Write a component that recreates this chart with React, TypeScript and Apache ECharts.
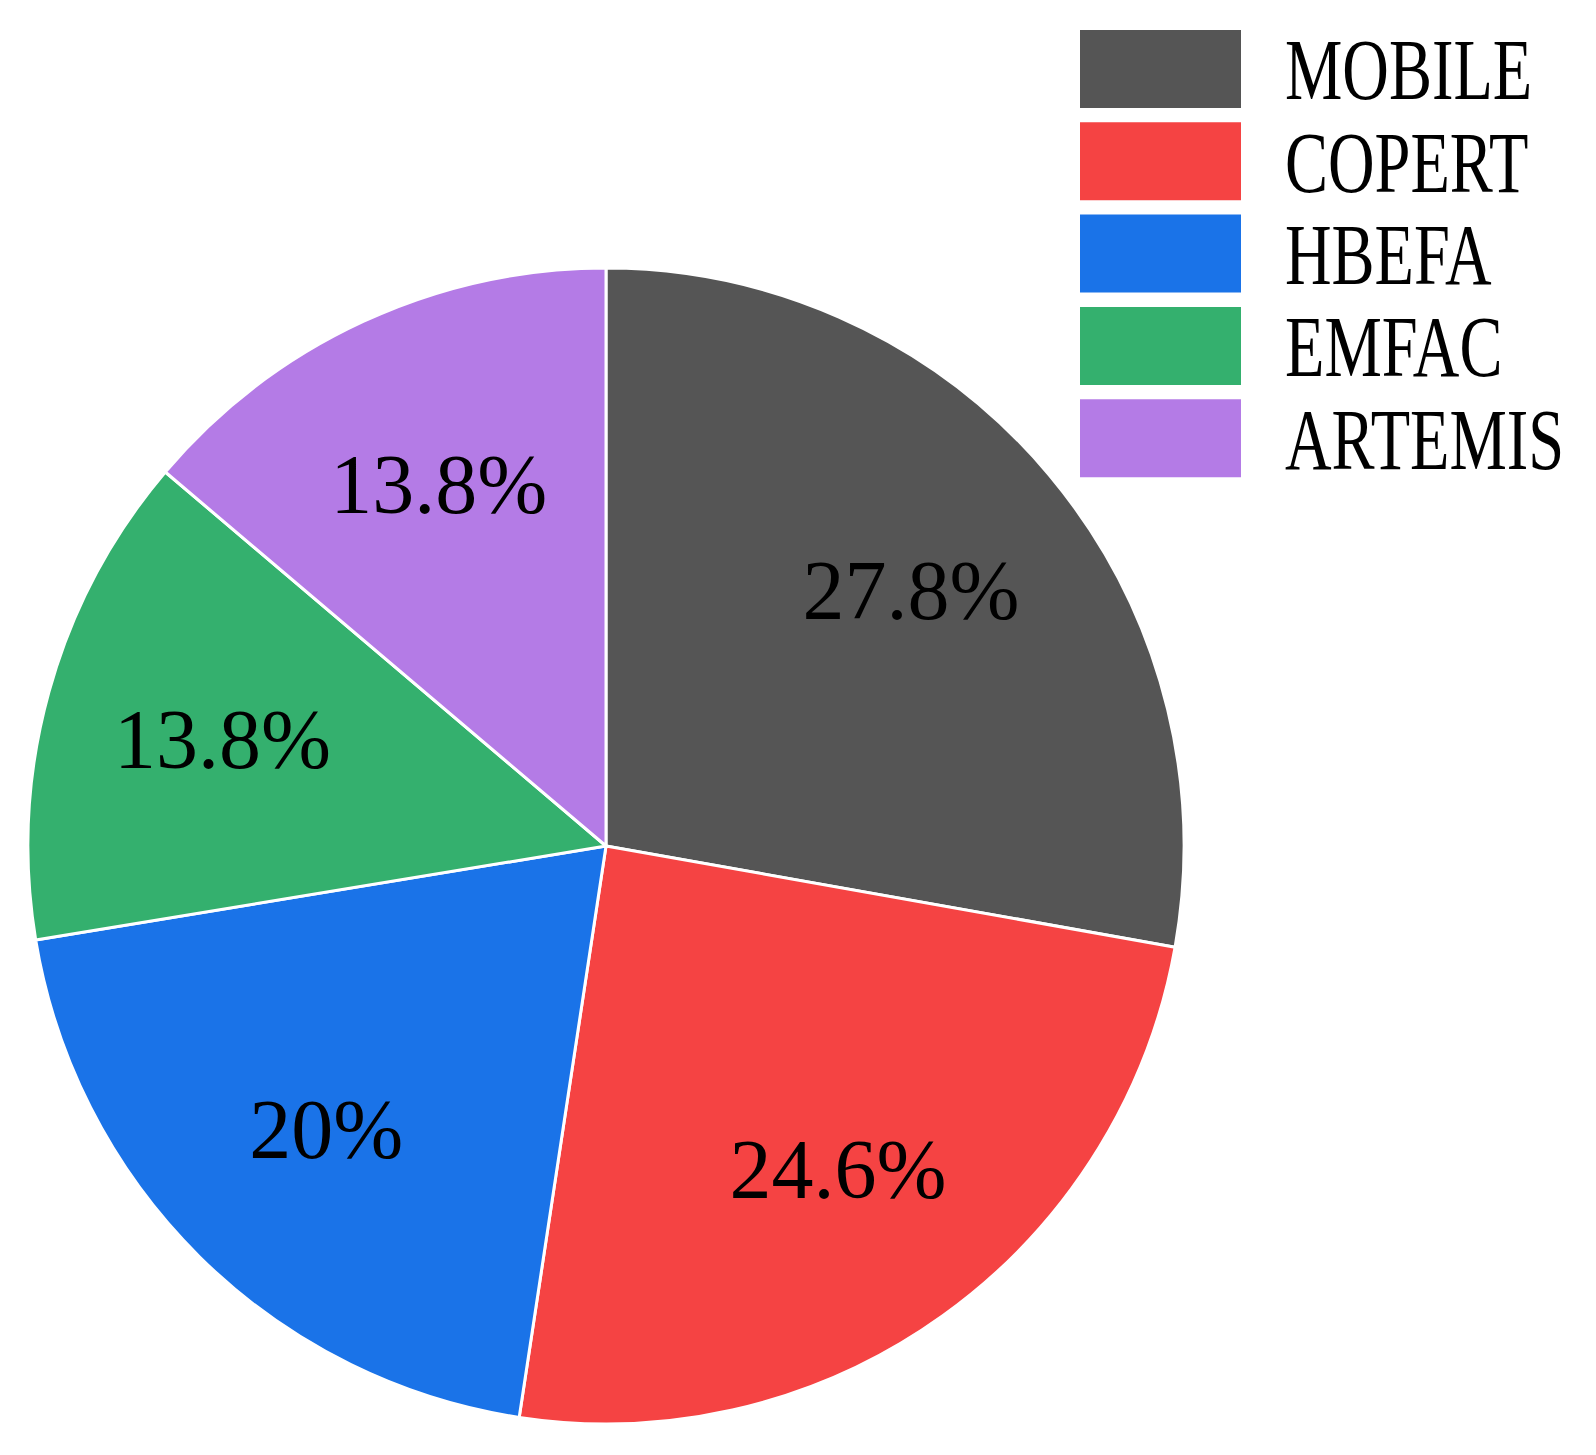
import React, { useEffect, useRef } from "react";
import * as echarts from "echarts";

const categories = ["MOBILE", "COPERT", "HBEFA", "EMFAC", "ARTEMIS"];
const values = [27.8, 24.6, 20, 13.8, 13.8];
const colors = ["#555555", "#F54343", "#1A73E8", "#34B06E", "#B47BE6"];

const FONT = "'Liberation Serif', 'Times New Roman', Times, serif";
const CX = 606;
const CY = 846;
const R = 578;
const LABEL_R = 395;

export default function App() {
  const ref = useRef<HTMLDivElement>(null);
  useEffect(() => {
    document.body.style.margin = "0";
    const chart = echarts.init(ref.current!, null, { renderer: "svg" });
    const data = categories.map((name, i) => ({
      name,
      value: values[i],
      itemStyle: { color: colors[i] },
    }));
    const legendGraphics: any[] = [];
    categories.forEach((name, i) => {
      const top = 30 + i * 92.3;
      legendGraphics.push({
        type: "rect",
        shape: { x: 1080, y: top, width: 161, height: 78 },
        style: { fill: colors[i] },
      });
      legendGraphics.push({
        type: "text",
        x: 1285,
        y: top + 40,
        scaleX: 0.75,
        style: {
          text: name,
          fontFamily: FONT,
          fontSize: 86,
          fill: "#000",
          textAlign: "left",
          textVerticalAlign: "middle",
        },
      });
    });
    chart.setOption({
      animation: false,
      backgroundColor: "#ffffff",
      graphic: legendGraphics,
      series: [
        {
          type: "pie",
          center: [CX, CY],
          radius: [0, R],
          startAngle: 90,
          clockwise: true,
          silent: true,
          label: { show: false },
          labelLine: { show: false },
          itemStyle: { borderColor: "#ffffff", borderWidth: 3 },
          data,
        },
        {
          type: "pie",
          center: [CX, CY],
          radius: [0, LABEL_R * 2],
          startAngle: 90,
          clockwise: true,
          silent: true,
          z: 5,
          itemStyle: { color: "transparent", borderWidth: 0 },
          emphasis: { disabled: true },
          label: {
            show: true,
            position: "inside",
            formatter: (p: any) => p.value + "%",
            fontFamily: FONT,
            fontSize: 84,
            color: "#000",
          },
          labelLine: { show: false },
          data: categories.map((name, i) => ({ name, value: values[i] })),
        },
      ],
    });
    return () => chart.dispose();
  }, []);
  return <div ref={ref} style={{ width: 1596, height: 1455 }} />;
}
